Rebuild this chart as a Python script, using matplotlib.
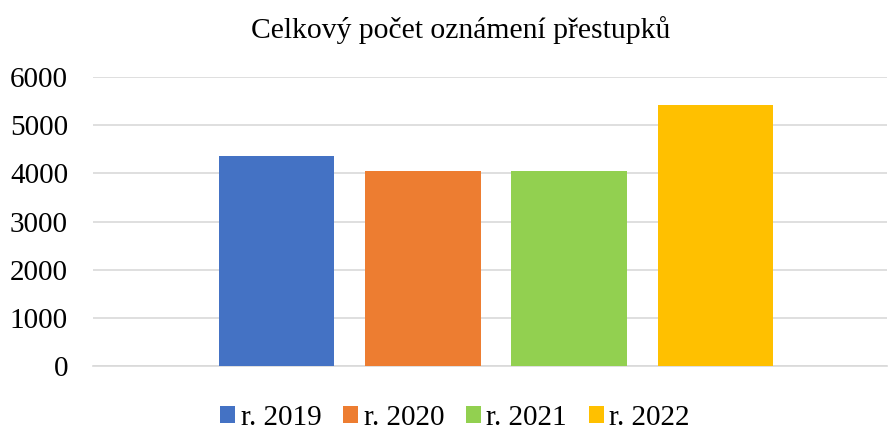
import matplotlib.pyplot as plt
from matplotlib.patches import Patch

title = "Celkový počet oznámení přestupků"
series = ["r. 2019", "r. 2020", "r. 2021", "r. 2022"]
values = [4370, 4050, 4050, 5415]
colors = ["#4472C4", "#ED7D31", "#92D050", "#FFC000"]
yticks = [0, 1000, 2000, 3000, 4000, 5000, 6000]

plt.rcParams["font.family"] = ["Liberation Serif", "DejaVu Serif"]

fig = plt.figure(figsize=(8.88, 4.30), dpi=100)
ax = fig.add_axes([93 / 888, 1 - 366 / 430, 794 / 888, (366 - 77) / 430])

positions = list(range(len(series)))
ax.bar(positions, values, width=0.79, color=colors, zorder=3)

ax.set_ylim(0, 6000)
ax.set_xlim(-1.254, 4.173)
ax.set_yticks(yticks)
ax.set_yticklabels([str(v) for v in yticks], fontsize=21)
ax.set_xticks([])
ax.tick_params(axis="y", length=0, pad=18)
ax.grid(axis="y", color="#D9D9D9", linewidth=1.2, zorder=0)
for s in ["top", "right", "left"]:
    ax.spines[s].set_visible(False)
ax.spines["bottom"].set_color("#D9D9D9")
ax.spines["bottom"].set_linewidth(1.2)

fig.text(461 / 888, 1 - 30 / 430, title, ha="center", va="center", fontsize=21.3)

handles = [Patch(facecolor=c, label=s) for c, s in zip(colors, series)]
fig.legend(handles=handles, loc="center", bbox_to_anchor=(455 / 888, 1 - 418 / 430),
           ncol=4, frameon=False, fontsize=21, handlelength=0.5, handleheight=0.5,
           handletextpad=0.2, columnspacing=0.75, borderaxespad=0)

fig.savefig("out.png", dpi=100)
